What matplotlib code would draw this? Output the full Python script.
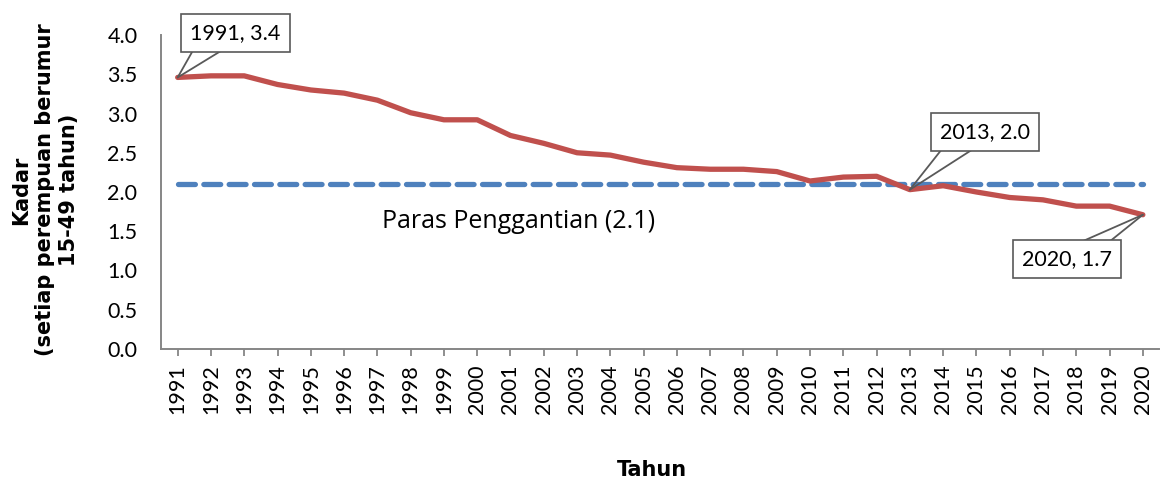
import numpy as np
import matplotlib
matplotlib.use("Agg")
import matplotlib.pyplot as plt

years = [str(y) for y in range(1991, 2021)]
tfr = [3.46, 3.48, 3.48, 3.37, 3.30, 3.26, 3.17, 3.01, 2.92, 2.92,
       2.72, 2.62, 2.50, 2.47, 2.38, 2.31, 2.29, 2.29, 2.26, 2.14,
       2.19, 2.20, 2.03, 2.08, 2.00, 1.93, 1.90, 1.82, 1.82, 1.71]
replacement = 2.1
callouts = [("1991", "1991, 3.4"), ("2013", "2013, 2.0"), ("2020", "2020, 1.7")]
y_ticks = [0.0, 0.5, 1.0, 1.5, 2.0, 2.5, 3.0, 3.5, 4.0]

plt.rcParams['font.family'] = ['Lato', 'DejaVu Sans']

fig = plt.figure(figsize=(11.61, 4.8), dpi=100)
ax = fig.add_axes([0.1387, 0.273, 0.86, 0.654])

x = np.arange(len(years))
ax.plot(x, [replacement] * len(x), color="#4F81BD", lw=3.8,
        dashes=(3.2, 1.6), dash_capstyle="round", zorder=2)
ax.plot(x, tfr, color="#C0504D", lw=3.8, solid_joinstyle="round",
        solid_capstyle="round", zorder=3)

ax.set_xlim(-0.5, len(x) - 0.5)
ax.set_ylim(0, 4.0)
ax.set_xticks(x)
ax.set_xticklabels(years, rotation=90, fontsize=15.5)
ax.set_yticks(y_ticks)
ax.set_yticklabels(["{:.1f}".format(v) for v in y_ticks], fontsize=15.5)
ax.tick_params(axis="y", length=0, pad=17)
ax.tick_params(axis="x", length=5, width=1.3, color="#868686", pad=6)
for s in ["top", "right"]:
    ax.spines[s].set_visible(False)
for s in ["left", "bottom"]:
    ax.spines[s].set_color("#868686")
    ax.spines[s].set_linewidth(1.4)

ax.text(6.15, 1.62, "Paras Penggantian (2.1)", fontsize=18,
        family=["Open Sans", "DejaVu Sans"], va="center", ha="left")

# callout boxes: box centre offset and the two base points of the pointer (pixels)
box_off = {"1991": (58, 44), "2013": (75, 58), "2020": (-76, -44)}
base_off = {"1991": [(17, 30), (49, 30)],
            "2013": [(34, 43), (67, 43)],
            "2020": [(-66, -29), (-36, -29)]}
for yr, label in callouts:
    i = years.index(yr)
    pt = (x[i], tfr[i])
    for b in base_off[yr]:
        ax.annotate("", xy=pt, xytext=b, textcoords="offset pixels",
                    zorder=4,
                    arrowprops=dict(arrowstyle="-", color="#595959", lw=1.3,
                                    shrinkA=0, shrinkB=0))
    ax.annotate(label, xy=pt, xytext=box_off[yr],
                textcoords="offset pixels", ha="center", va="center",
                fontsize=15.5, zorder=5,
                bbox=dict(boxstyle="square,pad=0.42", fc="white",
                          ec="#595959", lw=1.2))

fig.text(45 / 1161, 1 - 190 / 480,
         "Kadar\n(setiap perempuan berumur\n15-49 tahun)",
         rotation=90, ha="center", va="center", multialignment="center",
         fontsize=15, fontweight="bold", family="DejaVu Sans",
         linespacing=1.25)
fig.text(652 / 1161, 1 - 470 / 480, "Tahun", ha="center", va="center",
         fontsize=15, fontweight="bold", family="DejaVu Sans")

fig.savefig("out.png", dpi=100)
